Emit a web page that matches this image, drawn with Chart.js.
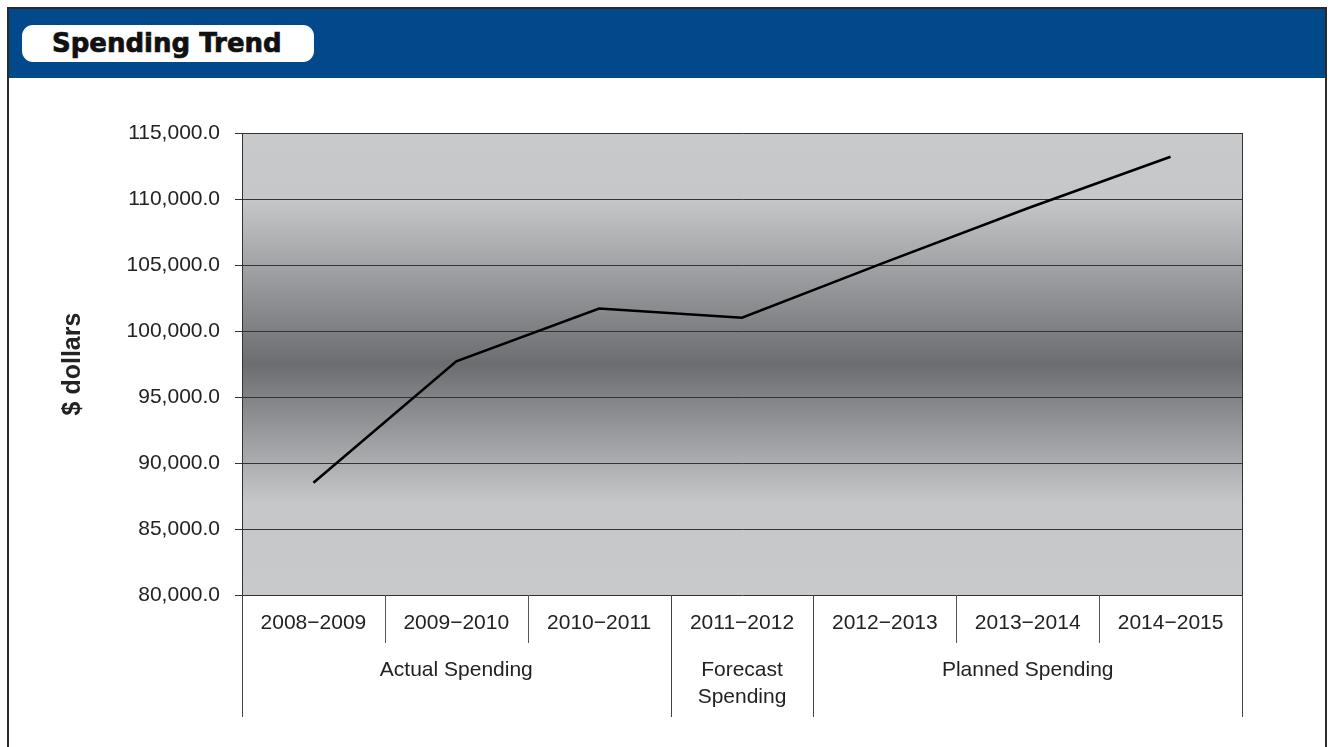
<!DOCTYPE html>
<html>
<head>
<meta charset="utf-8">
<script src="https://cdn.jsdelivr.net/npm/chart.js@4"></script>
<style>
  html, body { margin: 0; padding: 0; background: #fff; }
  body { width: 1331px; height: 747px; position: relative; overflow: hidden; }
  #frame { position: absolute; left: 7px; top: 7px; width: 1320px; height: 760px; border: 2px solid #2b2b2b; border-bottom: none; box-sizing: border-box; }
  #header { position: absolute; left: 0; top: 0; right: 0; height: 69px; background: #02498b; }
  #pill { position: absolute; left: 13px; top: 16px; width: 292px; height: 37px; background: #fff; border-radius: 11px;
          font-family: "DejaVu Sans", sans-serif; font-weight: bold; font-size: 26px; line-height: 37px; padding-left: 30px;
          box-sizing: border-box; color: #111; -webkit-text-stroke: 0.7px #111; white-space: nowrap; }
  #wrap { position: absolute; left: 0; top: 0; width: 1331px; height: 747px; }
</style>
</head>
<body>
<div id="frame">
  <div id="header"><div id="pill">Spending Trend</div></div>
</div>
<div id="wrap"><canvas id="trend-canvas"></canvas></div>
<script>
    var categories = ['2008\u22122009', '2009\u22122010', '2010\u22122011', '2011\u22122012', '2012\u22122013', '2013\u22122014', '2014\u22122015'];
    var spending = [88500, 97700, 101700, 101000, 105200, 109300, 113200];
    var yMin = 80000;
    var yMax = 115000;
    var yStep = 5000;
    var groupLabels = [['Actual Spending'], ['Forecast', 'Spending'], ['Planned Spending']];
    var groupSizes = [3, 1, 3];

    var textFont = '"Liberation Sans", Arial, sans-serif';

    // gray band behind the line, dark in the middle
    var plotBackground = {
      id: 'plotBackground',
      beforeDraw: function(chart) {
        var a = chart.chartArea;
        var ctx = chart.ctx;
        var g = ctx.createLinearGradient(0, a.top, 0, a.bottom);
        g.addColorStop(0, '#c8c9cb');
        g.addColorStop(0.143, '#c6c7c9');
        g.addColorStop(0.5, '#6c6d71');
        g.addColorStop(0.8, '#c6c7c9');
        g.addColorStop(1, '#c8c9cb');
        ctx.save();
        ctx.fillStyle = g;
        ctx.fillRect(a.left, a.top, a.right - a.left, a.bottom - a.top);
        ctx.restore();
      },
      afterDraw: function(chart) {
        var a = chart.chartArea;
        var ctx = chart.ctx;
        ctx.save();
        ctx.strokeStyle = '#333';
        ctx.lineWidth = 1;
        ctx.beginPath();
        ctx.moveTo(Math.round(a.right) + 0.5, a.top);
        ctx.lineTo(Math.round(a.right) + 0.5, a.bottom);
        ctx.stroke();
        ctx.restore();
      }
    };

    // category dividers and the spending group row under the x axis
    var groupAxis = {
      id: 'groupAxis',
      afterDraw: function(chart) {
        var x = chart.scales.x;
        var a = chart.chartArea;
        var ctx = chart.ctx;
        var half = (x.getPixelForValue(1) - x.getPixelForValue(0)) / 2;
        ctx.save();
        ctx.strokeStyle = '#555';
        ctx.lineWidth = 1;
        for (var i = 0; i <= categories.length; i++) {
          var px = Math.round(x.getPixelForValue(i) - half) + 0.5;
          ctx.beginPath();
          ctx.moveTo(px, a.bottom);
          ctx.lineTo(px, a.bottom + 48);
          ctx.stroke();
        }
        ctx.strokeStyle = '#444';
        var start = 0;
        var edges = [0];
        for (var j = 0; j < groupSizes.length; j++) {
          start += groupSizes[j];
          edges.push(start);
        }
        edges.forEach(function(e) {
          var px = Math.round(x.getPixelForValue(e) - half) + 0.5;
          ctx.beginPath();
          ctx.moveTo(px, a.bottom);
          ctx.lineTo(px, a.bottom + 122);
          ctx.stroke();
        });
        ctx.fillStyle = '#222';
        ctx.font = '21px ' + textFont;
        ctx.textAlign = 'center';
        ctx.textBaseline = 'middle';
        for (var k = 0; k < groupLabels.length; k++) {
          var left = x.getPixelForValue(edges[k]) - half;
          var right = x.getPixelForValue(edges[k + 1]) - half;
          var cx = (left + right) / 2;
          groupLabels[k].forEach(function(line, n) {
            ctx.fillText(line, cx, a.bottom + 75 + n * 27);
          });
        }
        ctx.restore();
      }
    };

    var ctx = document.getElementById('trend-canvas').getContext('2d');
    var chartObj = new Chart(ctx, {
        type: 'line',
        data: {
          labels: categories,
          datasets: [{
            data: spending,
            borderColor: '#000',
            borderWidth: 2.6,
            pointRadius: 0,
            tension: 0,
            fill: false
          }]
        },
        options: {
          responsive: true,
          maintainAspectRatio: false,
          animation: false,
          layout: { padding: { left: 40, right: 89, top: 133, bottom: 30 } },
          plugins: { legend: { display: false }, tooltip: { enabled: false } },
          scales: {
            x: {
              offset: true,
              grid: { display: false, drawTicks: false },
              border: { display: false },
              ticks: { color: '#222', padding: 16, maxRotation: 0, autoSkip: false, font: { family: textFont, size: 21 } },
              afterFit: function(scale) { scale.height = 122; }
            },
            y: {
              min: yMin,
              max: yMax,
              ticks: {
                stepSize: yStep,
                color: '#222',
                padding: 15,
                font: { family: textFont, size: 21 },
                callback: function(v) {
                  return v.toLocaleString('en-US', { minimumFractionDigits: 1, maximumFractionDigits: 1 });
                }
              },
              grid: { color: '#333', lineWidth: 1, tickLength: 7 },
              border: { color: '#333', width: 1 },
              title: {
                display: true,
                text: '$ dollars',
                color: '#222',
                padding: { top: 18 },
                font: { family: textFont, size: 25, weight: 'bold' }
              },
              afterFit: function(scale) { scale.width = 202; }
            }
          }
        },
        plugins: [plotBackground, groupAxis]
    });
</script>
</body>
</html>
